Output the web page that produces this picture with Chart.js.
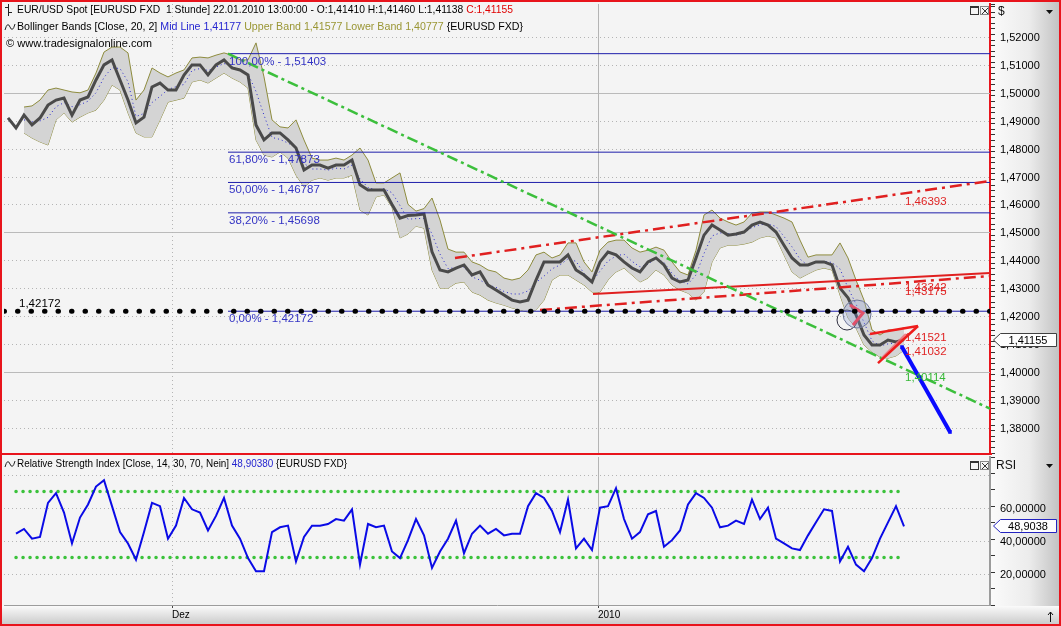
<!DOCTYPE html>
<html>
<head>
<meta charset="utf-8">
<script src="https://cdn.jsdelivr.net/npm/chart.js@4.4.1/dist/chart.umd.min.js"></script>
<style>
html, body { margin: 0; padding: 0; background: #f4f4f4; }
#wrap { position: relative; width: 1061px; height: 626px; overflow: hidden; background: #f4f4f4; }
#price { position: absolute; left: 0; top: 0; width: 1061px; height: 455px; }
#rsi { position: absolute; left: 0; top: 455px; width: 1061px; height: 171px; }
#frame { position: absolute; left: 0; top: 0; width: 1061px; height: 626px; box-sizing: border-box; border: 2px solid #e8141c; pointer-events: none; }
</style>
</head>
<body>
<div id="wrap">
  <canvas id="price" width="1061" height="455"></canvas>
  <canvas id="rsi" width="1061" height="171"></canvas>
  <div id="frame"></div>
</div>
<script>
// hourly EUR/USD, sampled every few bars (index = sample number)
const closes = [
  1.4910, 1.4874, 1.4920, 1.4885, 1.4910, 1.4956, 1.4974, 1.4981, 1.4920, 1.4974,
  1.4985, 1.5046, 1.5100, 1.5118, 1.5046, 1.4974, 1.4892, 1.4913, 1.5021, 1.5035,
  1.5010, 1.5010, 1.5064, 1.5100, 1.5100, 1.5064, 1.5100, 1.5118, 1.5089, 1.5082,
  1.5064, 1.4885, 1.4831, 1.4856, 1.4856, 1.4831, 1.4802, 1.4723, 1.4741, 1.4741,
  1.4730, 1.4741, 1.4741, 1.4759, 1.4670, 1.4652, 1.4652, 1.4652, 1.4600, 1.4551,
  1.4560, 1.4562, 1.4566, 1.4430, 1.4365, 1.4358, 1.4372, 1.4383, 1.4347, 1.4358,
  1.4311, 1.4293, 1.4275, 1.4257, 1.4250, 1.4257, 1.4329, 1.4394, 1.4394, 1.4394,
  1.4419, 1.4365, 1.4347, 1.4322, 1.4394, 1.4429, 1.4419, 1.4394, 1.4372, 1.4358,
  1.4394, 1.4408, 1.4383, 1.4336, 1.4322, 1.4329, 1.4408, 1.4490, 1.4526, 1.4508,
  1.4490, 1.4494, 1.4501, 1.4526, 1.4537, 1.4526, 1.4501, 1.4454, 1.4408, 1.4383,
  1.4383, 1.4394, 1.4394, 1.4383, 1.4300, 1.4265, 1.4204, 1.4132, 1.4096, 1.4096,
  1.4114, 1.4107, 1.41155
];
const upperBand = [
  null, null, 1.4949, 1.4953, 1.4974, 1.5010, 1.5017, 1.5010, 1.5003, 1.5000,
  1.5010, 1.5071, 1.5146, 1.5164, 1.5164, 1.5143, 1.4974, 1.5010, 1.5089, 1.5071,
  1.5057, 1.5071, 1.5082, 1.5125, 1.5128, 1.5125, 1.5135, 1.5143, 1.5135, 1.5118,
  1.5118, 1.5179, 1.5057, 1.4903, 1.4878, 1.4874, 1.4903, 1.4831, 1.4766, 1.4759,
  1.4759, 1.4766, 1.4759, 1.4777, 1.4802, 1.4759, 1.4677, 1.4677, 1.4695, 1.4713,
  1.4600, 1.4576, 1.4585, 1.4623, 1.4544, 1.4440, 1.4429, 1.4429, 1.4394, 1.4383,
  1.4365, 1.4358, 1.4336, 1.4329, 1.4336, 1.4365, 1.4419, 1.4429, 1.4408, 1.4419,
  1.4462, 1.4462, 1.4394, 1.4358, 1.4436, 1.4465, 1.4472, 1.4472, 1.4444, 1.4429,
  1.4436, 1.4447, 1.4436, 1.4394, 1.4358, 1.4347, 1.4436, 1.4562, 1.4580, 1.4551,
  1.4537, 1.4526, 1.4537, 1.4569, 1.4573, 1.4573, 1.4562, 1.4551, 1.4537, 1.4472,
  1.4411, 1.4419, 1.4419, 1.4419, 1.4462, 1.4408, 1.4329, 1.4257, 1.4150, 1.4132,
  1.4150, 1.4150, 1.41577
];
const midLine = [
  null, null, 1.4903, 1.4896, 1.4899, 1.4912, 1.4950, 1.4965, 1.4950, 1.4957,
  1.4970, 1.5000, 1.5055, 1.5090, 1.5087, 1.5040, 1.4915, 1.4926, 1.4965, 1.4987,
  1.5012, 1.5022, 1.5030, 1.5080, 1.5087, 1.5080, 1.5092, 1.5105, 1.5094, 1.5080,
  1.5068, 1.5005, 1.4920, 1.4840, 1.4833, 1.4820, 1.4804, 1.4747, 1.4727, 1.4727,
  1.4723, 1.4730, 1.4727, 1.4741, 1.4691, 1.4661, 1.4652, 1.4656, 1.4642, 1.4596,
  1.4547, 1.4549, 1.4550, 1.4494, 1.4422, 1.4370, 1.4374, 1.4376, 1.4340, 1.4329,
  1.4311, 1.4303, 1.4288, 1.4279, 1.4279, 1.4290, 1.4320, 1.4343, 1.4369, 1.4383,
  1.4405, 1.4396, 1.4353, 1.4322, 1.4361, 1.4397, 1.4415, 1.4422, 1.4396, 1.4376,
  1.4386, 1.4406, 1.4392, 1.4353, 1.4326, 1.4315, 1.4347, 1.4424, 1.4487, 1.4498,
  1.4496, 1.4490, 1.4498, 1.4517, 1.4527, 1.4530, 1.4521, 1.4485, 1.4448, 1.4404,
  1.4381, 1.4392, 1.4396, 1.4392, 1.4369, 1.4301, 1.4243, 1.4177, 1.4111, 1.4093,
  1.4100, 1.4104, 1.41177
];
const lowerBand = [
  null, null, 1.4856, 1.4838, 1.4824, 1.4813, 1.4903, 1.4928, 1.4895, 1.4913,
  1.4928, 1.4938, 1.4974, 1.5028, 1.5010, 1.4928, 1.4856, 1.4842, 1.4842, 1.4903,
  1.4967, 1.4974, 1.4981, 1.5039, 1.5046, 1.5035, 1.5053, 1.5071, 1.5053, 1.5039,
  1.5017, 1.4831, 1.4777, 1.4770, 1.4788, 1.4766, 1.4705, 1.4662, 1.4687, 1.4695,
  1.4687, 1.4695, 1.4695, 1.4705, 1.4580, 1.4562, 1.4627, 1.4634, 1.4590, 1.4480,
  1.4494, 1.4522, 1.4515, 1.4365, 1.4300, 1.4300, 1.4318, 1.4322, 1.4286, 1.4275,
  1.4257, 1.4247, 1.4239, 1.4229, 1.4222, 1.4214, 1.4222, 1.4257, 1.4329, 1.4347,
  1.4347, 1.4329, 1.4311, 1.4286, 1.4286, 1.4329, 1.4358, 1.4372, 1.4347, 1.4322,
  1.4336, 1.4365, 1.4347, 1.4311, 1.4293, 1.4282, 1.4257, 1.4286, 1.4394, 1.4444,
  1.4454, 1.4454, 1.4458, 1.4465, 1.4480, 1.4487, 1.4480, 1.4419, 1.4358, 1.4336,
  1.4351, 1.4365, 1.4372, 1.4365, 1.4275, 1.4193, 1.4157, 1.4096, 1.4071, 1.4053,
  1.4049, 1.4057, 1.40777
];
const rsiValues = [
  null, 44.4, 47.3, 41.4, 42.4, 63.1, 69.0, 57.2, 38.5, 54.2,
  62.1, 73.0, 76.9, 61.1, 45.4, 38.5, 28.6, 45.4, 63.1, 61.1,
  41.4, 49.3, 66.1, 59.2, 57.2, 46.4, 55.2, 66.1, 49.3, 41.4,
  29.6, 21.7, 21.7, 45.4, 48.3, 49.3, 27.6, 42.4, 49.3, 49.3,
  50.3, 53.3, 52.3, 59.2, 25.7, 50.3, 48.3, 49.3, 33.6, 29.6,
  40.5, 53.3, 43.4, 23.7, 33.6, 41.4, 52.3, 32.6, 44.4, 49.3,
  44.4, 47.3, 43.4, 44.4, 44.4, 61.1, 69.0, 66.1, 58.2, 45.4,
  65.1, 35.5, 41.4, 34.5, 60.2, 61.1, 72.0, 53.3, 41.4, 45.4,
  56.2, 58.2, 36.5, 40.5, 46.4, 62.1, 69.0, 66.1, 60.2, 48.3,
  49.3, 52.3, 50.3, 65.1, 53.3, 60.2, 41.4, 38.5, 35.5, 34.5,
  43.4, 51.3, 59.2, 58.2, 27.6, 36.5, 25.7, 21.7, 29.6, 41.4,
  51.3, 61.1, 48.9038
];
const rsiLevels = [70, 30];

// axis steps and label ranges
const priceGridStep = 0.01;
const priceLabelMax = 1.52;
const rsiGridStep = 20;
const rsiLabelMax = 60;

// x axis: sample index, month marks
const timeTickPos = [20.5, 73.75];
const timeTickLabels = ['Dez', '2010'];
const xRange = [-0.5, 122.75];

// fibonacci retracement
const fibLevels = [1.51403, 1.47873, 1.46787, 1.45698, 1.42172];
const fibNames = ['100,00%', '61,80%', '50,00%', '38,20%', '0,00%'];
const fibFrom = 27.5;
const supportLevel = 1.42172;

// drawn tools, [sample, price]
const greenTrend = [[27.5, 1.51403], [122.75, 1.3868]];
const redUpper = [[55.875, 1.4408], [122.75, 1.4684]];
const redSolid = [[73.125, 1.42788], [122.75, 1.43541]];
const redLower = [[66.5, 1.42215], [122.75, 1.43434]];
const wedgeTop = [[107.75, 1.41355], [113.75, 1.41642]];
const wedgeBottom = [[108.75, 1.40315], [113.75, 1.41642]];
const wedgeInner = [[109.25, 1.40495], [112.25, 1.41355]];
const vMark = [[105.25, 1.42394], [106.875, 1.42108], [105.625, 1.41677]];
const circleBig = [[106.125, 1.42072]];
const circleSmall = [[104.875, 1.41857]];
const projection = [[111.75, 1.40889], [117.75, 1.37842]];
const toolValues = [1.46393, 1.43342, 1.43175, 1.41521, 1.41032, 1.40114];

const FONT = '"Liberation Sans", Arial, sans-serif';
const fmt = (v, d) => v.toFixed(d).replace('.', ',');
const seg = p => p.map(([x, y]) => ({x, y}));
const series = arr => arr.map((y, x) => ({x, y}));
const lastIdx = closes.length - 1;

const tool = (pts, color, width, dash, extra) => Object.assign({
  data: seg(pts), borderColor: color, borderWidth: width, borderDash: dash || [],
  pointRadius: 0, fill: false, order: 0
}, extra || {});

// round values of the scale between its min and max
function levelsOf(scale, step) {
  const out = [];
  for (let k = Math.ceil(scale.min / step - 1e-9); k * step <= scale.max + 1e-9; k++) {
    out.push(+(k * step).toFixed(6));
  }
  return out;
}

function axisColumn(ctx, x, y, w, h) {
  const g = ctx.createLinearGradient(x, 0, x + w, 0);
  g.addColorStop(0, '#fbfbfb');
  g.addColorStop(0.55, '#ececec');
  g.addColorStop(1, '#c0c0c0');
  ctx.fillStyle = g;
  ctx.fillRect(x, y, w, h);
}

function axisLabels(ctx, scale, step, maxLabel, x) {
  ctx.save();
  ctx.font = '11px ' + FONT;
  ctx.fillStyle = '#000';
  ctx.textAlign = 'left';
  ctx.textBaseline = 'middle';
  levelsOf(scale, step).forEach(v => {
    if (v <= maxLabel + 1e-9) ctx.fillText(fmt(v, 5), x, Math.round(scale.getPixelForValue(v)) + 0.5);
  });
  ctx.restore();
}

function hLine(ctx, x0, x1, y, solid) {
  ctx.strokeStyle = solid ? '#bababa' : '#b4b4b4';
  ctx.setLineDash(solid ? [] : [1, 3]);
  ctx.lineWidth = 1;
  ctx.beginPath();
  ctx.moveTo(x0, y);
  ctx.lineTo(x1, y);
  ctx.stroke();
}

function vLines(ctx, chart) {
  const {chartArea: a, scales} = chart;
  timeTickPos.forEach((v, i) => {
    const px = Math.round(scales.x.getPixelForValue(v)) + 0.5;
    const year = /^\d{4}$/.test(timeTickLabels[i]);
    ctx.strokeStyle = year ? '#b4b4b4' : '#b4b4b4';
    ctx.setLineDash(year ? [] : [1, 3]);
    ctx.beginPath();
    ctx.moveTo(px, a.top);
    ctx.lineTo(px, a.bottom);
    ctx.stroke();
  });
  ctx.setLineDash([]);
}

function drawRun(ctx, x, y, parts, fitWidth) {
  ctx.save();
  ctx.font = '11px ' + FONT;
  ctx.textBaseline = 'middle';
  ctx.textAlign = 'left';
  const total = parts.reduce((s, p) => s + ctx.measureText(p[0]).width, 0);
  const k = fitWidth / total;
  ctx.translate(x, y);
  ctx.scale(k, 1);
  let cx = 0;
  parts.forEach(([t, c]) => {
    ctx.fillStyle = c;
    ctx.fillText(t, cx, 0);
    cx += ctx.measureText(t).width;
  });
  ctx.restore();
}

function waveIcon(ctx, x, y) {
  ctx.save();
  ctx.strokeStyle = '#222';
  ctx.lineWidth = 1;
  ctx.beginPath();
  ctx.moveTo(x, y + 3);
  ctx.quadraticCurveTo(x + 2.5, y - 6, x + 5, y);
  ctx.quadraticCurveTo(x + 7.5, y + 6, x + 10, y - 3);
  ctx.stroke();
  ctx.restore();
}

function paneButtons(ctx, x, y) {
  ctx.save();
  ctx.strokeStyle = '#333';
  ctx.fillStyle = '#333';
  ctx.lineWidth = 1;
  ctx.strokeRect(x + 0.5, y + 0.5, 8, 8);
  ctx.fillRect(x, y, 9, 2);
  ctx.strokeStyle = '#888';
  ctx.strokeRect(x + 10.5, y + 0.5, 8, 8);
  ctx.strokeStyle = '#333';
  ctx.beginPath();
  ctx.moveTo(x + 12, y + 2); ctx.lineTo(x + 18, y + 8);
  ctx.moveTo(x + 18, y + 2); ctx.lineTo(x + 12, y + 8);
  ctx.stroke();
  ctx.restore();
}

function axisHeader(ctx, x, y, text) {
  ctx.save();
  ctx.font = '12px ' + FONT;
  ctx.fillStyle = '#111';
  ctx.textBaseline = 'middle';
  ctx.fillText(text, x, y);
  ctx.beginPath();
  ctx.moveTo(1046, y - 2); ctx.lineTo(1053, y - 2); ctx.lineTo(1049.5, y + 2);
  ctx.closePath();
  ctx.fill();
  ctx.restore();
}

function valueMarker(ctx, x, y, text, border) {
  const h = 13, w = 63;
  ctx.save();
  ctx.beginPath();
  ctx.moveTo(x + 0.5, y);
  ctx.lineTo(x + 7.5, y - h / 2);
  ctx.lineTo(x + w + 0.5, y - h / 2);
  ctx.lineTo(x + w + 0.5, y + h / 2);
  ctx.lineTo(x + 7.5, y + h / 2);
  ctx.closePath();
  ctx.fillStyle = '#fdfdfd';
  ctx.fill();
  ctx.strokeStyle = border;
  ctx.lineWidth = 1;
  ctx.stroke();
  ctx.fillStyle = '#000';
  ctx.font = '11px ' + FONT;
  ctx.textAlign = 'center';
  ctx.textBaseline = 'middle';
  ctx.fillText(text, x + 7 + (w - 7) / 2, y + 0.5);
  ctx.restore();
}

const noPad = s => { s.paddingTop = 0; s.paddingBottom = 0; s.paddingLeft = 0; s.paddingRight = 0; };

const pricePanel = {
  id: 'pricePanel',
  beforeDraw(chart) {
    const {ctx, chartArea: a, width, height} = chart;
    ctx.save();
    ctx.fillStyle = '#f4f4f4';
    ctx.fillRect(0, 0, width, height);
    axisColumn(ctx, a.right, 0, width - a.right, height);
    ctx.restore();
  },
  beforeDatasetsDraw(chart) {
    const {ctx, chartArea: a, scales} = chart;
    ctx.save();
    levelsOf(scales.y, priceGridStep).forEach(v => {
      if (v > priceLabelMax + 1e-9) return;
      const py = Math.round(scales.y.getPixelForValue(v)) + 0.5;
      hLine(ctx, a.left, a.right, py, Math.round(v * 100) % 5 === 0);
    });
    vLines(ctx, chart);
    ctx.restore();
  },
  afterDatasetsDraw(chart) {
    const {ctx, chartArea: a, scales} = chart;
    const {x, y} = scales;
    ctx.save();
    ctx.font = '11.5px ' + FONT;
    ctx.textBaseline = 'top';
    ctx.fillStyle = '#3434c4';
    fibLevels.forEach((lv, i) => {
      ctx.fillText(fibNames[i] + ' - ' + fmt(lv, 5), x.getPixelForValue(fibFrom) + 1, y.getPixelForValue(lv) + 2);
    });
    ctx.fillStyle = '#000';
    ctx.textBaseline = 'bottom';
    ctx.fillText(fmt(supportLevel, 5), a.left + 15, y.getPixelForValue(supportLevel) - 2);
    ctx.textBaseline = 'top';
    toolValues.forEach((v, i) => {
      ctx.fillStyle = i === toolValues.length - 1 ? '#36b836' : '#e02424';
      ctx.fillText(fmt(v, 5), x.getPixelForValue(lastIdx) + 1, y.getPixelForValue(v) + 3);
    });
    ctx.restore();
  },
  afterDraw(chart) {
    const {ctx, chartArea: a, scales} = chart;
    ctx.save();
    ctx.fillStyle = '#e8141c';
    ctx.fillRect(0, a.bottom, a.right + 2, 2);
    // header lines
    ctx.strokeStyle = '#222';
    ctx.beginPath();
    ctx.moveTo(8.5, 4); ctx.lineTo(8.5, 16);
    ctx.moveTo(5, 7.5); ctx.lineTo(8.5, 7.5);
    ctx.moveTo(8.5, 12.5); ctx.lineTo(12, 12.5);
    ctx.stroke();
    drawRun(ctx, 17, 10, [
      ['EUR/USD Spot [EURUSD FXD  1 Stunde] 22.01.2010 13:00:00 - O:1,41410 H:1,41460 L:1,41138 ', '#000'],
      ['C:1,41155', '#e00000']
    ], 496);
    waveIcon(ctx, 5, 27);
    drawRun(ctx, 17, 27, [
      ['Bollinger Bands [Close, 20, 2] ', '#000'],
      ['Mid Line 1,41177 ', '#2424d0'],
      ['Upper Band 1,41577 Lower Band 1,40777 ', '#9a9634'],
      ['{EURUSD FXD}', '#000']
    ], 506);
    drawRun(ctx, 6, 44, [['\u00a9 www.tradesignalonline.com', '#000']], 146);
    paneButtons(ctx, 970, 6);
    axisHeader(ctx, 998, 12, '$');
    axisLabels(ctx, scales.y, priceGridStep, priceLabelMax, a.right + 10);
    valueMarker(ctx, a.right + 3, Math.round(scales.y.getPixelForValue(closes[lastIdx])), fmt(closes[lastIdx], 5), '#404040');
    ctx.restore();
  }
};

const fibDatasets = fibLevels.map(lv => tool([[fibFrom, lv], [xRange[1], lv]], '#1e1eaa', 1));

new Chart(document.getElementById('price'), {
  type: 'line',
  data: {
    datasets: [
      tool([[xRange[0], supportLevel], [xRange[1], supportLevel]], '#000', 5, [0.5, 13], {borderCapStyle: 'round'}),
      tool(projection, '#0a0aff', 4, [], {pointRadius: 2.5, pointStyle: 'rect', pointBackgroundColor: '#0a0aff', pointBorderWidth: 0}),
      tool(wedgeTop, '#ee1c1c', 2.5),
      tool(wedgeBottom, '#ee1c1c', 2.5),
      tool(wedgeInner, 'rgba(240,110,120,0.85)', 2.5),
      tool(vMark, '#e0506a', 3),
      tool(circleBig, 'transparent', 0, [], {showLine: false, pointRadius: 14, pointBackgroundColor: 'rgba(150,165,220,0.30)', pointBorderColor: '#707898', pointBorderWidth: 1}),
      tool(circleSmall, 'transparent', 0, [], {showLine: false, pointRadius: 10, pointBackgroundColor: 'transparent', pointBorderColor: '#303040', pointBorderWidth: 1}),
      tool(greenTrend, '#3cbf3c', 2.5, [11, 4, 3, 4]),
      tool(redUpper, '#e02020', 2.5, [12, 5, 3, 5]),
      tool(redSolid, '#e02020', 2),
      tool(redLower, '#e02020', 2.5, [12, 5, 3, 5]),
      ...fibDatasets,
      {data: series(closes), borderColor: '#4a4a4a', borderWidth: 3, pointRadius: 0, order: 1},
      {data: series(midLine), borderColor: '#2a2ad0', borderWidth: 1, borderDash: [1, 3], pointRadius: 0, order: 2},
      {data: series(upperBand), borderColor: '#8e8c3e', borderWidth: 1, backgroundColor: '#d4d4d4', fill: '+1', pointRadius: 0, order: 3},
      {data: series(lowerBand), borderColor: '#8e8c3e', borderWidth: 1, pointRadius: 0, order: 3}
    ]
  },
  options: {
    responsive: false,
    maintainAspectRatio: false,
    animation: false,
    events: [],
    devicePixelRatio: 1,
    layout: {autoPadding: false, padding: {left: 4, top: 4, right: 0, bottom: 2}},
    elements: {line: {tension: 0}, point: {radius: 0}},
    plugins: {legend: {display: false}, tooltip: {enabled: false}},
    scales: {
      x: {
        type: 'linear', min: xRange[0], max: xRange[1], display: false,
        ticks: {display: false},
        afterFit: s => { s.height = 0; noPad(s); }
      },
      y: {
        type: 'linear', position: 'right', min: 1.37091, max: 1.53183, bounds: 'data',
        afterFit: s => { s.width = 71; noPad(s); },
        border: {color: '#e8141c', width: 2},
        grid: {drawOnChartArea: false, tickLength: 5, tickColor: '#333', tickWidth: 1},
        ticks: {display: false, stepSize: 0.002, autoSkip: false, includeBounds: false}
      }
    }
  },
  plugins: [pricePanel]
});

const rsiPanel = {
  id: 'rsiPanel',
  beforeDraw(chart) {
    const {ctx, chartArea: a, width, height} = chart;
    ctx.save();
    ctx.fillStyle = '#f4f4f4';
    ctx.fillRect(0, 0, width, height);
    axisColumn(ctx, a.right, 0, width - a.right, a.bottom + 1);
    const g = ctx.createLinearGradient(0, a.bottom + 1, 0, height);
    g.addColorStop(0, '#fafafa');
    g.addColorStop(1, '#c6c6c6');
    ctx.fillStyle = g;
    ctx.fillRect(0, a.bottom + 1, width, height - a.bottom - 1);
    ctx.restore();
  },
  beforeDatasetsDraw(chart) {
    const {ctx, chartArea: a, scales} = chart;
    ctx.save();
    levelsOf(scales.y, rsiGridStep).forEach(v => {
      const py = Math.round(scales.y.getPixelForValue(v)) + 0.5;
      hLine(ctx, a.left, a.right, py, false);
    });
    vLines(ctx, chart);
    ctx.restore();
  },
  afterDraw(chart) {
    const {ctx, chartArea: a, scales} = chart;
    ctx.save();
    waveIcon(ctx, 5, 9);
    drawRun(ctx, 17, 9, [
      ['Relative Strength Index [Close, 14, 30, 70, Nein] ', '#000'],
      [fmt(rsiValues[lastIdx], 5), '#2424d0'],
      [' {EURUSD FXD}', '#000']
    ], 330);
    paneButtons(ctx, 970, 6);
    axisHeader(ctx, 996, 11, 'RSI');
    axisLabels(ctx, scales.y, rsiGridStep, rsiLabelMax, a.right + 10);
    const last = rsiValues[lastIdx];
    valueMarker(ctx, a.right + 3, Math.round(scales.y.getPixelForValue(last)), fmt(last, 4), '#2424c0');
    // scroll arrow in the corner
    ctx.strokeStyle = '#111';
    ctx.beginPath();
    ctx.moveTo(1050.5, 167); ctx.lineTo(1050.5, 157);
    ctx.moveTo(1048, 160); ctx.lineTo(1050.5, 157); ctx.lineTo(1053, 160);
    ctx.stroke();
    ctx.restore();
  }
};

new Chart(document.getElementById('rsi'), {
  type: 'line',
  data: {
    datasets: [
      {data: series(rsiValues), borderColor: '#0a0ae6', borderWidth: 2, pointRadius: 0, order: 0},
      ...rsiLevels.map(lv => tool([[1, lv], [lastIdx, lv]], '#3cc23c', 3.5, [0.1, 6.9], {borderCapStyle: 'round', order: 1}))
    ]
  },
  options: {
    responsive: false,
    maintainAspectRatio: false,
    animation: false,
    events: [],
    devicePixelRatio: 1,
    layout: {autoPadding: false, padding: {left: 4, top: 2, right: 0, bottom: 4}},
    elements: {line: {tension: 0}, point: {radius: 0}},
    plugins: {legend: {display: false}, tooltip: {enabled: false}},
    scales: {
      x: {
        type: 'linear', min: xRange[0], max: xRange[1], position: 'bottom',
        afterFit: s => { s.height = 17; noPad(s); },
        afterBuildTicks: s => { s.ticks = timeTickPos.map(v => ({value: v})); },
        border: {color: '#9c9c9c', width: 1},
        grid: {drawOnChartArea: false, tickLength: 3, tickColor: '#444'},
        ticks: {
          autoSkip: false, maxRotation: 0, minRotation: 0, align: 'start', padding: 1, color: '#000',
          font: {family: FONT, size: 10},
          callback: (v, i) => timeTickLabels[i]
        }
      },
      y: {
        type: 'linear', position: 'right', min: 1.2, max: 90.9, bounds: 'data',
        afterFit: s => { s.width = 71; noPad(s); },
        border: {color: '#9c9c9c', width: 2},
        grid: {drawOnChartArea: false, tickLength: 5, tickColor: '#333'},
        ticks: {display: false, stepSize: 10, autoSkip: false, includeBounds: false}
      }
    }
  },
  plugins: [rsiPanel]
});
</script>
</body>
</html>
